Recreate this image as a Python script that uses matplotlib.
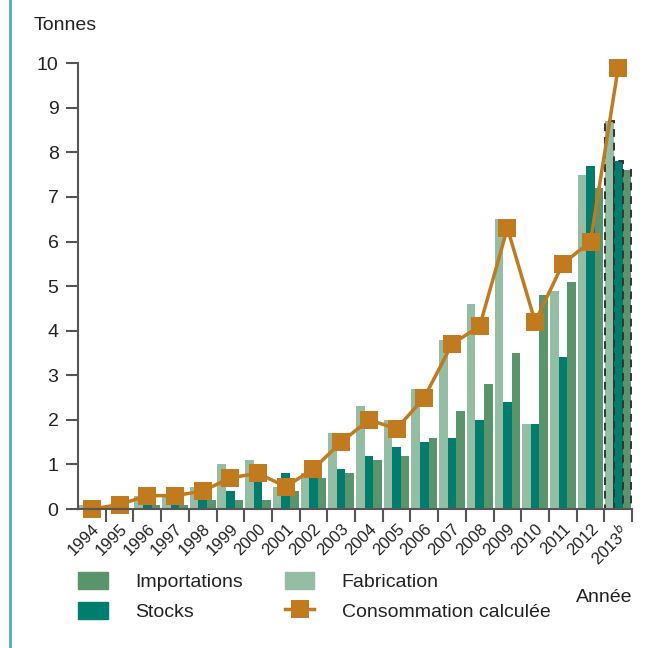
import numpy as np
import matplotlib
matplotlib.use('Agg')
import matplotlib.pyplot as plt
from matplotlib.patches import Patch
from matplotlib.lines import Line2D

plt.rcParams['font.family'] = ['Liberation Sans', 'DejaVu Sans']

years = ['1994', '1995', '1996', '1997', '1998', '1999', '2000', '2001', '2002', '2003',
         '2004', '2005', '2006', '2007', '2008', '2009', '2010', '2011', '2012', r'2013$^{b}$']
fabrication = [0.1, 0.1, 0.3, 0.3, 0.5, 1.0, 1.1, 0.5, 0.8, 1.7,
               2.3, 2.0, 2.7, 3.8, 4.6, 6.5, 1.9, 4.9, 7.5, 8.7]
stocks = [0.0, 0.0, 0.1, 0.1, 0.2, 0.4, 0.7, 0.8, 0.7, 0.9,
          1.2, 1.4, 1.5, 1.6, 2.0, 2.4, 1.9, 3.4, 7.7, 7.8]
importations = [0.0, 0.0, 0.1, 0.1, 0.2, 0.2, 0.2, 0.4, 0.7, 0.8,
                1.1, 1.2, 1.6, 2.2, 2.8, 3.5, 4.8, 5.1, 7.2, 7.6]
consommation = [0.0, 0.1, 0.3, 0.3, 0.4, 0.7, 0.8, 0.5, 0.9, 1.5,
                2.0, 1.8, 2.5, 3.7, 4.1, 6.3, 4.2, 5.5, 6.0, 9.9]

c_fab = '#93bea3'
c_sto = '#007d6e'
c_imp = '#5a946b'
c_con = '#c27a1e'
axis_col = '#555555'
text_col = '#222222'

fig = plt.figure(figsize=(6.62, 6.48), dpi=100)
ax = fig.add_axes([0.1178, 0.2145, 0.837, 0.688])

x = np.arange(len(years))
w = 0.31
b1 = ax.bar(x - w, fabrication, w, color=c_fab, zorder=2)
b2 = ax.bar(x, stocks, w, color=c_sto, zorder=2)
b3 = ax.bar(x + w, importations, w, color=c_imp, zorder=2)

# last year is provisional: dashed outline
for bars in (b1, b2, b3):
    last = bars[-1]
    last.set_edgecolor('#333333')
    last.set_linestyle((0, (4, 3)))
    last.set_linewidth(1.4)

ax.plot(x, consommation, color=c_con, lw=2.5, marker='s', ms=12.5,
        markeredgewidth=0, zorder=4, clip_on=False)

ax.set_xlim(-0.5, len(years) - 0.5)
ax.set_ylim(0, 10)
ax.set_yticks(range(0, 11))
ax.tick_params(axis='y', labelsize=14, length=9, width=1.5, color=axis_col,
               pad=5, labelcolor=text_col)

ax.set_xticks(x + 0.5, minor=False)
ax.set_xticklabels([])
ax.set_xticks(x, minor=True)
ax.set_xticklabels(years, minor=True, rotation=45, ha='right', va='top',
                   rotation_mode='anchor', fontsize=12, color=text_col)
ax.tick_params(axis='x', which='major', length=9, width=1.5, color=axis_col)
ax.tick_params(axis='x', which='minor', length=0, pad=9)

for s in ['top', 'right']:
    ax.spines[s].set_visible(False)
for s in ['left', 'bottom']:
    ax.spines[s].set_color(axis_col)
    ax.spines[s].set_linewidth(1.5)
ax.spines['bottom'].set_zorder(5)

fig.text(0.098, 0.96, 'Tonnes', fontsize=14, ha='center', va='center', color=text_col)
fig.text(0.955, 0.078, 'Année', fontsize=14, ha='right', va='center', color=text_col)

handles = [Patch(color=c_imp), Patch(color=c_sto), Patch(color=c_fab),
           Line2D([0], [0], color=c_con, lw=2.5, marker='s', ms=12.5, markeredgewidth=0)]
labels = ['Importations', 'Stocks', 'Fabrication', 'Consommation calculée']
leg = fig.legend(handles, labels, ncol=2, loc='upper left', bbox_to_anchor=(0.092, 0.145),
                 frameon=False, fontsize=14, handlelength=1.5, handleheight=1.0,
                 handletextpad=1.4, labelspacing=0.55, columnspacing=2.2)
for t in leg.get_texts():
    t.set_color(text_col)

fig.add_artist(Line2D([0.015, 0.015], [0, 1], color='#4baac8', lw=2,
                      transform=fig.transFigure))

fig.savefig('out.png', dpi=100)
